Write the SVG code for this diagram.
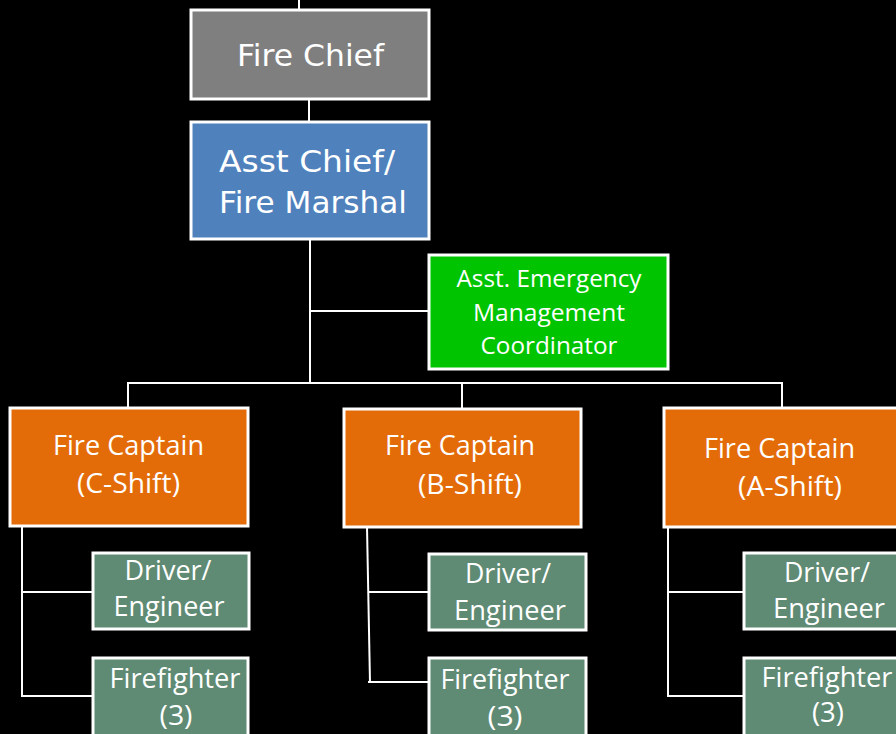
<svg xmlns="http://www.w3.org/2000/svg" width="896" height="734" viewBox="0 0 896 734">
  <style>
    .box { stroke: #ffffff; stroke-width: 3; }
    .chief { fill: #7f7f7f; }
    .asst { fill: #4f81bd; }
    .emg { fill: #00c400; }
    .capt { fill: #e36c09; }
    .crew { fill: #5f8a74; }
    .t1 { font-family: "DejaVu Sans", "Liberation Sans", sans-serif; font-size: 30px; fill: #ffffff; }
    .t2 { font-family: "Open Sans", "Noto Sans", sans-serif; font-size: 27px; fill: #ffffff; text-anchor: middle; }
    .t3 { font-family: "Open Sans", "Noto Sans", sans-serif; font-size: 23px; fill: #ffffff; text-anchor: middle; }
    .link { stroke: #ffffff; stroke-width: 2; fill: none; }
  </style>
  <rect width="896" height="734" fill="#000000"/>

  <!-- connectors -->
  <g id="connectors">
    <line class="link" x1="299" y1="0" x2="299" y2="10" stroke-width="4"/>
    <line class="link" x1="309" y1="100" x2="309" y2="122"/>
    <line class="link" x1="310" y1="239" x2="310" y2="383"/>
    <line class="link" x1="310" y1="311" x2="429" y2="311"/>
    <line class="link" x1="127" y1="383" x2="783" y2="383"/>
    <line class="link" x1="128" y1="383" x2="128" y2="408"/>
    <line class="link" x1="462" y1="383" x2="462" y2="409"/>
    <line class="link" x1="782" y1="383" x2="782" y2="408"/>
    <!-- C-Shift crew -->
    <line class="link" x1="22" y1="527" x2="22" y2="697"/>
    <line class="link" x1="22" y1="592" x2="93" y2="592"/>
    <line class="link" x1="22" y1="696" x2="93" y2="696"/>
    <!-- B-Shift crew -->
    <line class="link" x1="367" y1="527" x2="370" y2="683"/>
    <line class="link" x1="369" y1="592" x2="429" y2="592"/>
    <line class="link" x1="368" y1="682" x2="429" y2="682"/>
    <!-- A-Shift crew -->
    <line class="link" x1="668" y1="528" x2="668" y2="697"/>
    <line class="link" x1="668" y1="592" x2="744" y2="592"/>
    <line class="link" x1="668" y1="696" x2="744" y2="696"/>
  </g>

  <g id="fire-chief">
    <rect class="box chief" x="191" y="10" width="238" height="89"/>
    <text class="t1" x="310.5" y="66" text-anchor="middle" textLength="147" lengthAdjust="spacingAndGlyphs">Fire Chief</text>
  </g>

  <g id="asst-chief">
    <rect class="box asst" x="191" y="122" width="238" height="117"/>
    <text class="t1" x="219" y="172" textLength="176" lengthAdjust="spacingAndGlyphs">Asst Chief/</text>
    <text class="t1" x="219" y="213" textLength="188" lengthAdjust="spacingAndGlyphs">Fire Marshal</text>
  </g>

  <g id="emergency-coordinator">
    <rect class="box emg" x="429" y="255" width="239" height="114"/>
    <text class="t3" x="549" y="287" textLength="185" lengthAdjust="spacingAndGlyphs">Asst. Emergency</text>
    <text class="t3" x="549" y="321" textLength="152" lengthAdjust="spacingAndGlyphs">Management</text>
    <text class="t3" x="549" y="354" textLength="137" lengthAdjust="spacingAndGlyphs">Coordinator</text>
  </g>

  <g id="captain-c">
    <rect class="box capt" x="10" y="408" width="238" height="118"/>
    <text class="t2" x="128.5" y="455" textLength="151" lengthAdjust="spacingAndGlyphs">Fire Captain</text>
    <text class="t2" x="128.5" y="493" textLength="103" lengthAdjust="spacingAndGlyphs">(C-Shift)</text>
  </g>
  <g id="captain-b">
    <rect class="box capt" x="344" y="409" width="237" height="118"/>
    <text class="t2" x="460" y="455" textLength="150" lengthAdjust="spacingAndGlyphs">Fire Captain</text>
    <text class="t2" x="470" y="494" textLength="104" lengthAdjust="spacingAndGlyphs">(B-Shift)</text>
  </g>
  <g id="captain-a">
    <rect class="box capt" x="664" y="408" width="240" height="119"/>
    <text class="t2" x="779.5" y="458" textLength="151" lengthAdjust="spacingAndGlyphs">Fire Captain</text>
    <text class="t2" x="790" y="496" textLength="104" lengthAdjust="spacingAndGlyphs">(A-Shift)</text>
  </g>

  <g id="driver-c">
    <rect class="box crew" x="93" y="553" width="156" height="76"/>
    <text class="t2" x="168" y="580" textLength="87" lengthAdjust="spacingAndGlyphs">Driver/</text>
    <text class="t2" x="169" y="616" textLength="111" lengthAdjust="spacingAndGlyphs">Engineer</text>
  </g>
  <g id="firefighter-c">
    <rect class="box crew" x="93" y="658" width="155" height="90"/>
    <text class="t2" x="175" y="688" textLength="131" lengthAdjust="spacingAndGlyphs">Firefighter</text>
    <text class="t2" x="176" y="725" textLength="33" lengthAdjust="spacingAndGlyphs">(3)</text>
  </g>

  <g id="driver-b">
    <rect class="box crew" x="429" y="554" width="157" height="76"/>
    <text class="t2" x="508" y="583" textLength="86" lengthAdjust="spacingAndGlyphs">Driver/</text>
    <text class="t2" x="510" y="620" textLength="112" lengthAdjust="spacingAndGlyphs">Engineer</text>
  </g>
  <g id="firefighter-b">
    <rect class="box crew" x="429" y="658" width="157" height="90"/>
    <text class="t2" x="505" y="689" textLength="129" lengthAdjust="spacingAndGlyphs">Firefighter</text>
    <text class="t2" x="505" y="726" textLength="35" lengthAdjust="spacingAndGlyphs">(3)</text>
  </g>

  <g id="driver-a">
    <rect class="box crew" x="744" y="553" width="160" height="76"/>
    <text class="t2" x="827" y="582" textLength="86" lengthAdjust="spacingAndGlyphs">Driver/</text>
    <text class="t2" x="829" y="618" textLength="112" lengthAdjust="spacingAndGlyphs">Engineer</text>
  </g>
  <g id="firefighter-a">
    <rect class="box crew" x="744" y="658" width="160" height="90"/>
    <text class="t2" x="827" y="687" textLength="131" lengthAdjust="spacingAndGlyphs">Firefighter</text>
    <text class="t2" x="828" y="722" textLength="32" lengthAdjust="spacingAndGlyphs">(3)</text>
  </g>
</svg>
